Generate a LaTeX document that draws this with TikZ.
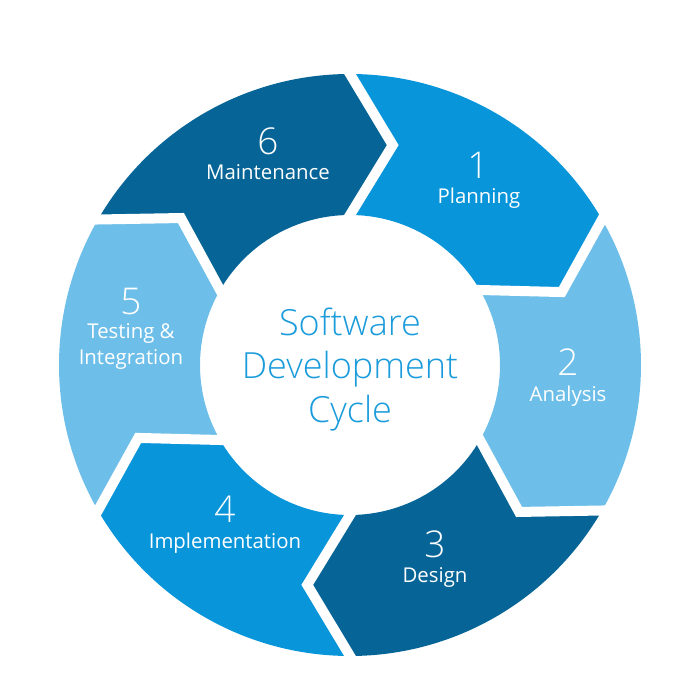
\documentclass[tikz,border=0pt]{standalone}
\usepackage{fontspec}
\setmainfont{Open Sans}
\IfFontExistsTF{Open Sans Light}{\newfontfamily\lightfont{Open Sans Light}}{\newfontfamily\lightfont{Open Sans}}
\usetikzlibrary{calc}
\definecolor{darkblue}{RGB}{6,101,150}
\definecolor{midblue}{RGB}{8,149,218}
\definecolor{lightblue}{RGB}{109,190,233}
\definecolor{titleblue}{RGB}{26,155,219}
\tikzset{
  num/.style={anchor=base, text=white, inner sep=0pt, font=\lightfont\fontsize{21}{25}\selectfont},
  lbl/.style={anchor=base, text=white, inner sep=0pt, font=\fontsize{11.6}{14}\selectfont},
  title/.style={anchor=base, text=titleblue, inner sep=0pt, font=\lightfont\fontsize{20.5}{24}\selectfont},
  gap/.style={white, line width=2mm, line join=miter}
}

\begin{document}
\begin{tikzpicture}[x=0.2mm,y=0.2mm]
  \useasboundingbox (-350,-335) rectangle (350,365);

  % ring pieces, clockwise
  \foreach \c/\col in {60/midblue, 0/lightblue, -60/darkblue, -120/midblue, 180/lightblue, 120/darkblue}{
    \fill[\col] (\c+30:291) arc[start angle=\c+30, end angle=\c-30, radius=291]
      -- (\c-41:224) -- (\c-30:150)
      arc[start angle=\c-30, end angle=\c+30, radius=150]
      -- (\c+19:224) -- cycle;
  }

  % white gaps
  \foreach \b in {90,30,-30,-90,-150,150}{
    \coordinate (tip) at (\b-11:224);
    \coordinate (out) at (\b:291);
    \coordinate (in) at (\b:150);
    \draw[gap] ($(tip)!1.2!(out)$) -- (tip) -- ($(tip)!1.2!(in)$);
  }

  \node[num] (n1) at (128,186) {1};
  \node[lbl] (l1) at (129,161) {Planning};
  \node[num] (n2) at (218,-11) {2};
  \node[lbl] (l2) at (218,-37) {Analysis};
  \node[num] (n3) at (85,-192) {3};
  \node[lbl] (l3) at (85,-217) {Design};
  \node[num] (n4) at (-125,-157) {4};
  \node[lbl] (l4) at (-125,-183) {Implementation};
  \node[num] (n5) at (-219,50) {5};
  \node[lbl] (l5) at (-219,26) {Testing \&};
  \node[lbl] (l5b) at (-219,0) {Integration};
  \node[num] (n6) at (-82,210) {6};
  \node[lbl] (l6) at (-82,185.5) {Maintenance};

  \node[title] (t1) at (0,29) {Software};
  \node[title] (t2) at (0,-14) {Development};
  \node[title] (t3) at (0,-58) {Cycle};
\end{tikzpicture}
\end{document}
